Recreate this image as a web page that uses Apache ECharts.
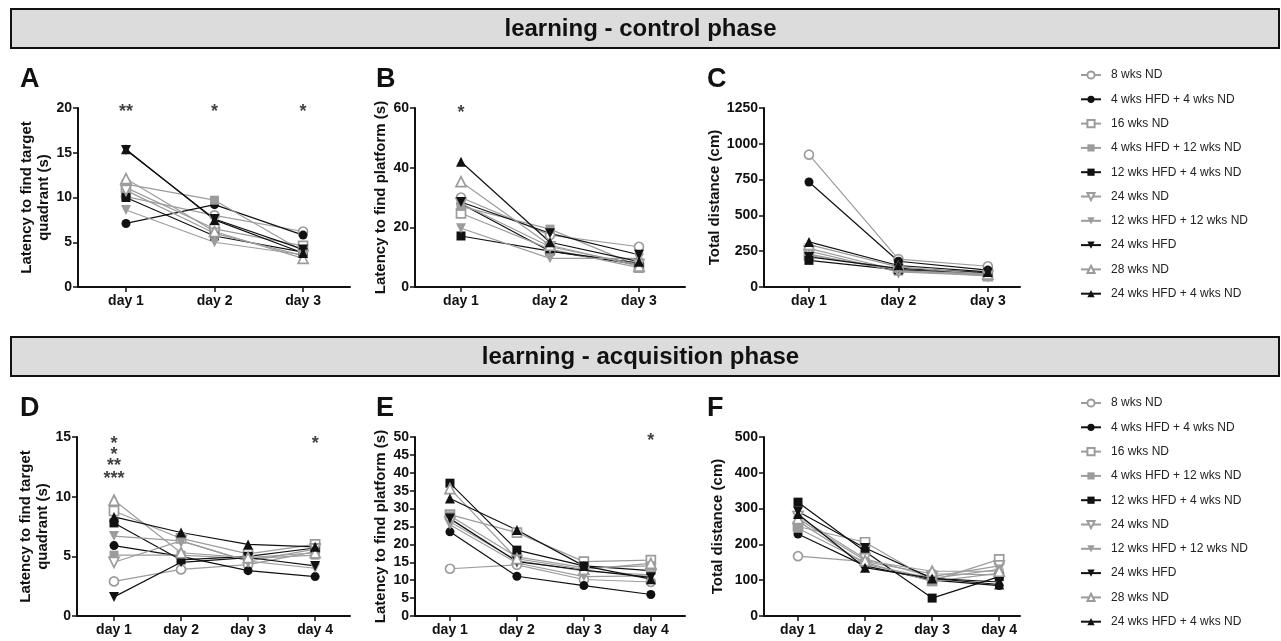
<!DOCTYPE html>
<html><head><meta charset="utf-8">
<script src="https://cdn.jsdelivr.net/npm/echarts@6/dist/echarts.min.js"></script>
<style>html,body{margin:0;padding:0;background:#fff}#c{width:1281px;height:641px}</style>
</head><body><div id="c"></div>
<script>
// ---------- data ----------
const groups = ['8 wks ND','4 wks HFD + 4 wks ND','16 wks ND','4 wks HFD + 12 wks ND','12 wks HFD + 4 wks ND','24 wks ND','12 wks HFD + 12 wks ND','24 wks HFD','28 wks ND','24 wks HFD + 4 wks ND'];
const days3 = ['day 1','day 2','day 3'];
const days4 = ['day 1','day 2','day 3','day 4'];
const phaseTitles = ['learning - control phase','learning - acquisition phase'];
const panelLetters = ['A','B','C','D','E','F'];
const yTitles = ['Latency to find target\nquadrant (s)','Latency to find platform (s)','Total distance (cm)','Latency to find target\nquadrant (s)','Latency to find platform (s)','Total distance (cm)'];

// rows follow the order of groups
const ctrlQuadrant = [
  [10.1, 8.0, 6.2],
  [7.1, 9.2, 5.8],
  [11.1, 6.5, 4.6],
  [11.5, 9.7, 4.0],
  [10.0, 5.7, 3.9],
  [10.8, 6.0, 3.5],
  [8.6, 5.0, 3.6],
  [15.3, 7.6, 4.2],
  [12.1, 6.2, 3.2],
  [15.4, 7.5, 3.8]
];
const ctrlPlatform = [
  [30.0, 17.4, 13.5],
  [27.9, 12.0, 7.5],
  [24.7, 12.7, 6.5],
  [27.0, 19.4, 7.0],
  [17.1, 12.0, 8.0],
  [28.0, 13.5, 7.5],
  [19.7, 9.6, 9.6],
  [28.5, 18.0, 10.8],
  [35.3, 14.0, 7.0],
  [42.0, 15.0, 8.5]
];
const ctrlDistance = [
  [924, 195, 145],
  [733, 180, 118],
  [220, 125, 75],
  [230, 110, 85],
  [186, 120, 95],
  [250, 105, 80],
  [270, 115, 90],
  [210, 130, 100],
  [296, 140, 90],
  [315, 150, 105]
];
const acqQuadrant = [
  [2.9, 3.9, 4.3, 5.4],
  [5.9, 5.0, 3.8, 3.3],
  [8.8, 6.5, 5.2, 6.0],
  [5.1, 5.1, 4.8, 5.1],
  [7.8, 4.7, 5.0, 5.7],
  [4.5, 6.3, 4.6, 5.6],
  [6.7, 6.3, 4.6, 4.0],
  [1.6, 4.5, 4.9, 4.2],
  [9.7, 5.3, 4.9, 5.3],
  [8.3, 7.0, 6.0, 5.8]
];
const acqPlatform = [
  [13.2, 14.3, 10.2, 9.5],
  [23.5, 11.1, 8.5, 6.0],
  [28.3, 23.3, 15.2, 15.6],
  [28.0, 16.5, 13.5, 14.0],
  [37.1, 18.4, 14.0, 12.7],
  [26.3, 15.5, 12.5, 11.5],
  [25.5, 14.8, 11.0, 11.2],
  [27.2, 15.2, 12.8, 10.8],
  [35.6, 16.0, 13.0, 14.7],
  [32.8, 24.0, 14.0, 10.3]
];
const acqDistance = [
  [167, 152, 118, 115],
  [229, 140, 100, 85],
  [250, 206, 98, 158],
  [245, 150, 96, 120],
  [318, 180, 50, 110],
  [278, 160, 110, 140],
  [265, 145, 105, 130],
  [292, 190, 105, 95],
  [272, 155, 125, 125],
  [285, 135, 105, 88]
];
// significance marks: [day, level, text]
const sigA = [[1, 19.5, '**'], [2, 19.5, '*'], [3, 19.5, '*']];
const sigB = [[1, 58.3, '*']];
const sigC = [];
const sigD = [[1, 14.4, '*'], [1, 13.5, '*'], [1, 12.6, '**'], [1, 11.5, '***'], [4, 14.4, '*']];
const sigE = [[4, 48.9, '*']];
const sigF = [];
const yMaxes = [20, 60, 1250, 15, 50, 500];
const yIntervals = [5, 20, 250, 5, 5, 100];

// ---------- styles / layout ----------
const GRAY = '#9c9c9c', BLACK = '#111';
const FONT = '"Liberation Sans", Arial, Helvetica, sans-serif';
const DOWN = 'path://M0,0L10,0L5,9Z';
const markers = [
  {color: GRAY, symbol: 'circle', open: true, size: 9},
  {color: BLACK, symbol: 'circle', open: false, size: 9},
  {color: GRAY, symbol: 'rect', open: true, size: 9},
  {color: GRAY, symbol: 'rect', open: false, size: 9},
  {color: BLACK, symbol: 'rect', open: false, size: 9},
  {color: GRAY, symbol: DOWN, open: true, size: 10},
  {color: GRAY, symbol: DOWN, open: false, size: 10},
  {color: BLACK, symbol: DOWN, open: false, size: 10},
  {color: GRAY, symbol: 'triangle', open: true, size: 10},
  {color: BLACK, symbol: 'triangle', open: false, size: 10}
];
const panelData = [ctrlQuadrant, ctrlPlatform, ctrlDistance, acqQuadrant, acqPlatform, acqDistance];
const panelDays = [days3, days3, days3, days4, days4, days4];
const panelSig = [sigA, sigB, sigC, sigD, sigE, sigF];
const grids = [
  {left: 78, top: 108, width: 272, height: 179},
  {left: 415, top: 108, width: 270, height: 179},
  {left: 764, top: 108, width: 256, height: 179},
  {left: 77, top: 437, width: 273, height: 179},
  {left: 415, top: 437, width: 270, height: 179},
  {left: 764, top: 437, width: 256, height: 179}
];
const xRanges = [[0.458, 3.53], [0.483, 3.517], [0.497, 3.36], [0.448, 4.52], [0.478, 4.51], [0.493, 4.31]];
const nameGaps = [24, 19, 38, 24, 19, 38];
const letterPos = [[20, 66], [376, 66], [707, 66], [20, 395], [376, 395], [707, 395]];
const bannerY = [8, 336];

const chart = echarts.init(document.getElementById('c'));
const grid = [], xAxis = [], yAxis = [], series = [];
const axisFont = {color: BLACK, fontWeight: 'bold', fontSize: 14, fontFamily: FONT};

panelData.forEach((rows, pi) => {
  const days = panelDays[pi];
  const ticks = days.map((_, i) => i + 1);
  grid.push(Object.assign({containLabel: false}, grids[pi]));
  xAxis.push({
    type: 'value', gridIndex: pi, min: xRanges[pi][0], max: xRanges[pi][1],
    axisLine: {show: true, onZero: false, lineStyle: {color: BLACK, width: 2}},
    axisTick: {show: true, customValues: ticks, length: 5, lineStyle: {color: BLACK, width: 1.5}},
    axisLabel: Object.assign({customValues: ticks, margin: 7, formatter: v => days[Math.round(v) - 1]}, axisFont),
    splitLine: {show: false}
  });
  yAxis.push({
    type: 'value', gridIndex: pi, min: 0, max: yMaxes[pi], interval: yIntervals[pi],
    name: yTitles[pi], nameLocation: 'middle', nameGap: nameGaps[pi],
    nameTextStyle: {color: BLACK, fontWeight: 'bold', fontSize: 15, fontFamily: FONT, lineHeight: 17},
    axisLine: {show: true, onZero: false, lineStyle: {color: BLACK, width: 2}},
    axisTick: {show: true, length: 5, lineStyle: {color: BLACK, width: 1.5}},
    axisLabel: Object.assign({margin: 6, formatter: v => String(v)}, axisFont),
    splitLine: {show: false}
  });
  rows.forEach((row, gi) => {
    const m = markers[gi];
    series.push({
      type: 'line', name: groups[gi], xAxisIndex: pi, yAxisIndex: pi,
      data: row.map((v, i) => [i + 1, v]),
      symbol: m.symbol, symbolSize: m.size, showAllSymbol: true,
      itemStyle: {color: m.open ? '#fff' : m.color, borderColor: m.color, borderWidth: m.open ? 1.7 : 0},
      lineStyle: {color: m.color, width: 1.2},
      emphasis: {disabled: true}, silent: true
    });
  });
  if (panelSig[pi].length) {
    series.push({
      type: 'scatter', xAxisIndex: pi, yAxisIndex: pi, silent: true,
      symbol: 'circle', symbolSize: 1, itemStyle: {color: 'rgba(0,0,0,0)'},
      data: panelSig[pi].map(s => ({name: s[2], value: [s[0], s[1]]})),
      label: {show: true, position: 'inside', formatter: '{b}', color: BLACK, fontSize: 18, fontWeight: 'bold', fontFamily: FONT}
    });
  }
});

const legendBase = {
  orient: 'vertical', left: 1075, itemWidth: 20, itemHeight: 9, itemGap: 10.3,
  selectedMode: false, data: groups,
  textStyle: {color: '#222', fontSize: 12, fontFamily: FONT, lineHeight: 14, padding: [0, 0, 0, 5]}
};

const graphic = [];
bannerY.forEach((y, i) => {
  graphic.push({type: 'rect', left: 10, top: y, shape: {width: 1268, height: 39},
    style: {fill: '#dcdcdc', stroke: BLACK, lineWidth: 2}, z: -1});
  graphic.push({type: 'text', left: 'center', top: y + 9,
    style: {text: phaseTitles[i], fill: BLACK, font: 'bold 24px ' + FONT}});
});
panelLetters.forEach((L, i) => {
  graphic.push({type: 'text', left: letterPos[i][0], top: letterPos[i][1],
    style: {text: L, fill: BLACK, font: 'bold 27px ' + FONT}});
});

chart.setOption({
  animation: false,
  backgroundColor: '#fff',
  grid, xAxis, yAxis, series, graphic,
  legend: [Object.assign({top: 63}, legendBase), Object.assign({top: 391}, legendBase)]
});
</script>
</body></html>
